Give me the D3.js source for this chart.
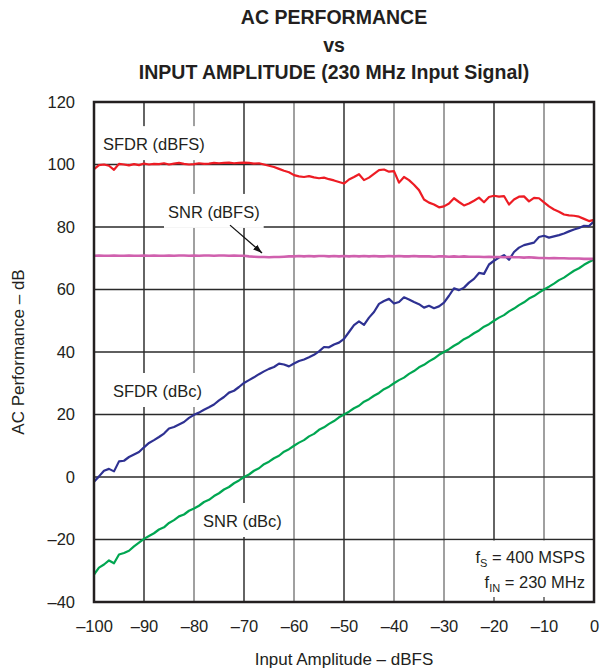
<!DOCTYPE html>
<html><head><meta charset="utf-8">
<script src="https://cdn.jsdelivr.net/npm/d3@7"></script>
<style>body{margin:0;background:#fff}text{font-family:"Liberation Sans",Arial,Helvetica,sans-serif;fill:#231f20}</style>
</head><body><svg id="c" width="600" height="670"></svg>
<script>
const inputAmplitude = [
-100,-99,-98,-97,-96,-95,-94,-93,-92,-91,
-90,-89,-88,-87,-86,-85,-84,-83,-82,-81,
-80,-79,-78,-77,-76,-75,-74,-73,-72,-71,
-70,-69,-68,-67,-66,-65,-64,-63,-62,-61,
-60,-59,-58,-57,-56,-55,-54,-53,-52,-51,
-50,-49,-48,-47,-46,-45,-44,-43,-42,-41,
-40,-39,-38,-37,-36,-35,-34,-33,-32,-31,
-30,-29,-28,-27,-26,-25,-24,-23,-22,-21,
-20,-19,-18,-17,-16,-15,-14,-13,-12,-11,
-10,-9,-8,-7,-6,-5,-4,-3,-2,-1,0];
const sfdrDbfs = [
98.5,99.8,100.0,99.6,98.3,100.2,100.0,99.7,100.1,99.8,
100.3,100.0,100.2,100.1,100.4,100.0,100.3,100.5,100.2,100.0,
100.1,100.4,100.2,100.3,100.5,100.4,100.5,100.6,100.4,100.5,
100.6,100.5,100.3,100.4,100.0,99.6,99.2,98.6,98.0,97.5,
96.6,96.2,96.0,96.3,95.9,95.6,95.8,95.3,94.9,94.4,
93.9,95.2,96.0,96.9,95.0,95.8,97.0,98.2,98.4,97.7,
97.9,94.2,96.0,95.0,93.5,91.8,88.8,87.8,87.2,86.3,
86.6,87.5,89.2,88.0,86.9,87.5,88.4,89.4,87.9,89.6,
90.0,89.7,89.9,87.2,88.8,89.7,89.8,88.2,89.3,89.2,
87.9,86.6,85.6,84.9,84.0,83.7,83.6,83.3,82.6,81.9,82.3];
const snrDbfs = [
70.8,70.9,70.8,70.8,70.9,70.8,70.8,70.9,70.8,70.8,
70.9,70.8,70.9,70.8,70.8,70.9,70.8,70.9,70.9,70.8,
70.9,70.8,70.9,70.9,70.8,70.9,70.9,70.8,70.9,70.8,
70.8,70.6,70.5,70.4,70.4,70.3,70.4,70.4,70.5,70.6,
70.6,70.7,70.6,70.7,70.6,70.7,70.7,70.6,70.7,70.6,
70.7,70.6,70.7,70.6,70.7,70.6,70.7,70.6,70.6,70.7,
70.6,70.7,70.6,70.6,70.7,70.6,70.6,70.6,70.5,70.6,
70.6,70.5,70.6,70.5,70.6,70.5,70.5,70.5,70.4,70.5,
70.4,70.4,70.3,70.4,70.3,70.3,70.2,70.3,70.2,70.1,
70.1,70.0,70.1,70.0,70.0,69.9,69.9,69.9,69.8,69.8,69.8];
const sfdrDbc = [
-1.5,0.2,2.0,2.6,1.8,5.0,5.2,6.4,7.2,8.0,
9.5,10.9,11.8,12.8,13.9,15.5,16.0,16.8,17.6,18.9,
19.9,20.6,21.5,22.3,23.2,24.5,25.6,27.0,27.6,28.8,
30.1,31.0,31.9,32.9,33.8,34.6,35.2,36.3,36.0,35.4,
36.3,37.1,37.6,38.3,39.1,40.2,41.6,41.5,42.4,43.0,
44.2,46.4,48.6,49.8,48.7,51.0,52.8,55.4,56.3,57.0,
55.5,56.0,57.5,56.8,56.0,55.3,54.2,54.8,54.0,54.6,
55.8,58.0,60.4,59.8,60.6,62.2,63.4,65.3,65.0,68.0,
69.2,70.2,71.0,69.5,72.0,73.4,74.2,74.6,75.0,76.8,
77.2,76.6,77.0,77.4,77.9,78.6,79.2,79.7,80.4,80.3,81.8];
const snrDbc = [
-31.2,-29.0,-28.0,-26.7,-27.6,-24.8,-24.3,-23.6,-22.2,-21.0,
-19.8,-18.9,-18.0,-16.8,-16.1,-14.7,-13.8,-12.6,-12.0,-10.8,
-10.1,-9.2,-8.0,-7.3,-6.1,-5.2,-4.0,-3.2,-2.0,-1.1,
0.0,0.8,2.0,2.8,4.1,4.9,6.0,6.8,8.1,8.9,
10.0,11.0,11.8,13.0,13.8,15.1,15.9,17.0,17.9,19.1,
20.0,20.9,22.0,22.8,24.1,24.9,26.0,26.9,28.1,28.9,
30.0,31.0,31.8,33.0,33.9,35.1,35.9,37.0,37.9,39.1,
40.0,40.9,42.0,42.9,44.1,44.9,46.0,46.9,48.1,48.9,
50.0,51.0,51.8,53.0,53.9,55.0,55.9,57.1,57.9,59.0,
60.0,60.9,61.9,63.0,63.8,64.9,66.0,66.8,67.9,68.8,69.6];
const xTicks = [-100,-90,-80,-70,-60,-50,-40,-30,-20,-10,0];
const yTicks = [-40,-20,0,20,40,60,80,100,120];
const titleLines = ["AC PERFORMANCE","vs","INPUT AMPLITUDE (230 MHz Input Signal)"];

const svg = d3.select("#c");
const L=94,R=594,T=102,B=602;
const x = d3.scaleLinear().domain([-100,0]).range([L,R]);
const y = d3.scaleLinear().domain([-40,120]).range([B,T]);
const fmt = d => d<0 ? "\u2013"+Math.abs(d) : String(d);

// title
svg.selectAll("text.title").data(titleLines).join("text")
  .attr("x",334).attr("y",(d,i)=>24+i*27.5)
  .attr("text-anchor","middle").attr("font-weight","bold").attr("font-size",19.5)
  .text(d=>d);

// grid
const darkV = new Set([-90,-70,-50,-20]);
svg.append("g").selectAll("line").data(xTicks.slice(1,-1)).join("line")
  .attr("x1",d=>x(d)).attr("x2",d=>x(d)).attr("y1",T).attr("y2",B)
  .attr("stroke",d=>darkV.has(d)?"#111":"#6d6d6d").attr("stroke-width",1.3);
svg.append("g").selectAll("line").data(yTicks.slice(1,-1)).join("line")
  .attr("x1",L).attr("x2",R).attr("y1",d=>y(d)).attr("y2",d=>y(d))
  .attr("stroke","#2a2a2a").attr("stroke-width",1.3);

// annotation box (white, covers grid)
svg.append("rect").attr("x",x(-30)+1).attr("y",y(-20)+1)
  .attr("width",R-x(-30)-1).attr("height",B-y(-20)-1).attr("fill","#fff");
svg.append("g").selectAll("line").data([-20,-10]).join("line")
  .attr("x1",d=>x(d)).attr("x2",d=>x(d)).attr("y1",B-5).attr("y2",B)
  .attr("stroke","#333").attr("stroke-width",1.2);

// axes tick labels
svg.append("g").attr("transform",`translate(0,${B})`)
  .call(d3.axisBottom(x).tickValues(xTicks).tickFormat(fmt).tickSize(0).tickPadding(18))
  .call(g=>g.select(".domain").remove())
  .selectAll("text").attr("font-size",16.5).style("font-family","Liberation Sans, Arial").attr("fill","#231f20");
svg.append("g").attr("transform",`translate(${L},0)`)
  .call(d3.axisLeft(y).tickValues(yTicks).tickFormat(fmt).tickSize(0).tickPadding(19))
  .call(g=>g.select(".domain").remove())
  .selectAll("text").attr("font-size",16.5).style("font-family","Liberation Sans, Arial").attr("fill","#231f20");

// curve labels with white backgrounds
const labels = [
  {t:"SFDR (dBFS)", x:-98.2, y:104.6},
  {t:"SNR (dBFS)", x:-85.2, y:82.9},
  {t:"SFDR (dBc)", x:-96.2, y:25.6},
  {t:"SNR (dBc)", x:-78.2, y:-16.0}
];
const lg = svg.append("g");
labels.forEach(l=>{
  const bg = lg.append("rect").attr("fill","#fff");
  const t = lg.append("text").attr("x",x(l.x)).attr("y",y(l.y)).attr("font-size",16.5).text(l.t);
  const bb = t.node().getBBox();
  bg.attr("x",bb.x-4).attr("y",bb.y-9).attr("width",bb.width+8).attr("height",bb.height+16);
  t.raise();
});

// series lines
const line = d3.line().x((d,i)=>x(inputAmplitude[i])).y(d=>y(d));
const series = [
  {v:snrDbc, c:"#00a651", w:2.2},
  {v:sfdrDbc, c:"#2e3192", w:2.2},
  {v:snrDbfs, c:"#d060ae", w:2.6},
  {v:sfdrDbfs, c:"#ed1c24", w:2.2}
];
svg.append("g").selectAll("path").data(series).join("path")
  .attr("d",d=>line(d.v)).attr("fill","none").attr("stroke",d=>d.c)
  .attr("stroke-width",d=>d.w).attr("stroke-linejoin","round");

// frame
svg.append("rect").attr("x",L).attr("y",T).attr("width",R-L).attr("height",B-T)
  .attr("fill","none").attr("stroke","#231f20").attr("stroke-width",2.5);

// arrow
svg.append("defs").append("marker").attr("id","ah").attr("viewBox","0 0 10 10")
  .attr("refX",10).attr("refY",5).attr("markerWidth",9).attr("markerHeight",9)
  .attr("markerUnits","userSpaceOnUse").attr("orient","auto")
  .append("path").attr("d","M0,1.5 L10,5 L0,8.5 Z").attr("fill","#111");
svg.append("line").attr("x1",x(-72.8)).attr("y1",y(80.6)).attr("x2",x(-66.4)).attr("y2",y(71.7))
  .attr("stroke","#111").attr("stroke-width",1.3).attr("marker-end","url(#ah)");

// annotation text
const ann = svg.append("g").attr("font-size",16.5);
const a1 = ann.append("text").attr("x",x(-1.8)).attr("y",y(-27.5)).attr("text-anchor","end");
a1.append("tspan").text("f");
a1.append("tspan").attr("font-size",11).attr("dy",4).text("S");
a1.append("tspan").attr("dy",-4).text(" = 400 MSPS");
const a2 = ann.append("text").attr("x",x(-1.8)).attr("y",y(-35.5)).attr("text-anchor","end");
a2.append("tspan").text("f");
a2.append("tspan").attr("font-size",11).attr("dy",4).text("IN");
a2.append("tspan").attr("dy",-4).text(" = 230 MHz");

// axis titles
svg.append("text").attr("x",(L+R)/2).attr("y",665).attr("text-anchor","middle").attr("font-size",17)
  .text("Input Amplitude \u2013 dBFS");
svg.append("text").attr("transform",`translate(24,${(T+B)/2}) rotate(-90)`).attr("text-anchor","middle").attr("font-size",17)
  .text("AC Performance \u2013 dB");
</script></body></html>
